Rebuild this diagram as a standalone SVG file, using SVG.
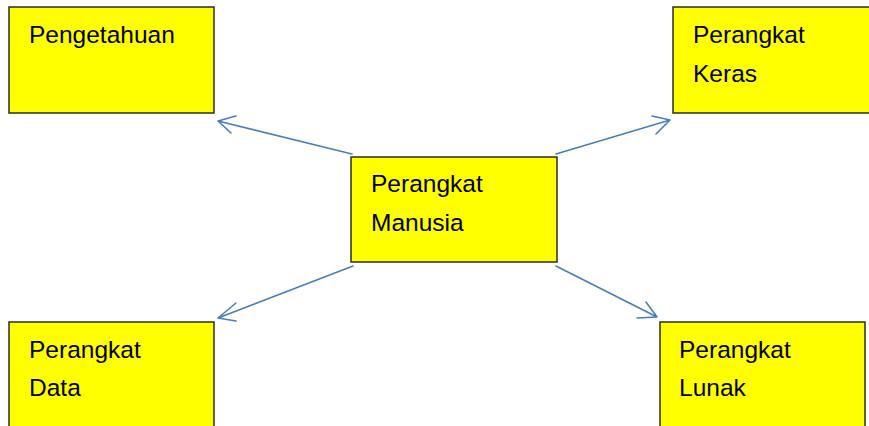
<svg xmlns="http://www.w3.org/2000/svg" width="869" height="426" viewBox="0 0 869 426">
<style>
.box{fill:#ffff00;stroke:#2b2b2b;stroke-width:1.5}
.lbl{font-family:"Liberation Sans",Arial,sans-serif;font-size:24.5px;fill:#000}
.conn{fill:none;stroke:#4a7ebb;stroke-width:1.6;stroke-linecap:round;stroke-linejoin:round}
</style>
<rect width="869" height="426" fill="#fff"/>
<g id="connectors">
<path class="conn" d="M352,154 L218,121 M236,116 L218,121 L231,133"/>
<path class="conn" d="M556,154 L670,120 M652,116 L670,120 L656,134"/>
<path class="conn" d="M353,266 L218,318 M236,303 L218,318 L236,321"/>
<path class="conn" d="M556,266 L657,317 M646,302 L657,317 L637,318"/>
</g>
<g id="pengetahuan">
<rect class="box" x="9" y="7" width="205" height="106"/>
<text class="lbl" x="29" y="43">Pengetahuan</text>
</g>
<g id="perangkat-keras">
<rect class="box" x="673" y="7" width="205" height="106"/>
<text class="lbl" x="693" y="43">Perangkat</text>
<text class="lbl" x="693" y="82">Keras</text>
</g>
<g id="perangkat-manusia">
<rect class="box" x="351" y="157" width="206" height="105"/>
<text class="lbl" x="371" y="192">Perangkat</text>
<text class="lbl" x="371" y="231">Manusia</text>
</g>
<g id="perangkat-data">
<rect class="box" x="9" y="322" width="205" height="110"/>
<text class="lbl" x="29" y="358">Perangkat</text>
<text class="lbl" x="29" y="396">Data</text>
</g>
<g id="perangkat-lunak">
<rect class="box" x="660" y="322" width="205" height="110"/>
<text class="lbl" x="679" y="358">Perangkat</text>
<text class="lbl" x="679" y="396">Lunak</text>
</g>
</svg>
